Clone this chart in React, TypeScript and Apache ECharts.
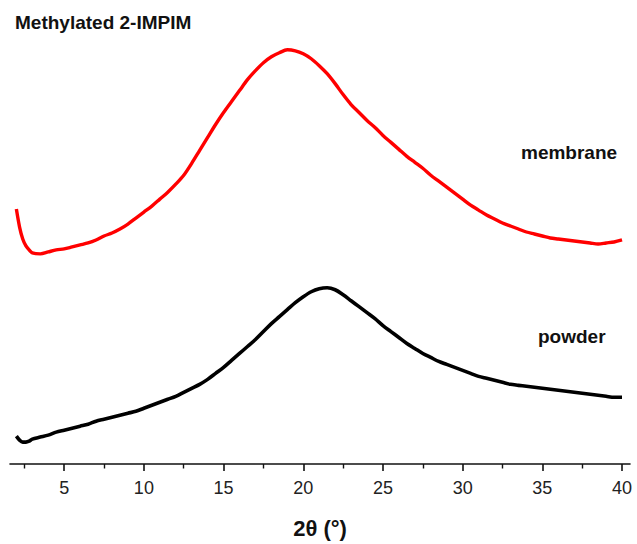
import React, { useEffect, useRef } from "react";
import * as echarts from "echarts";

// 2θ positions (degrees)
const twoTheta = [
  2.0, 2.2, 2.4, 2.6, 2.8, 3.0, 3.5, 4.0, 4.5, 5.0, 5.5, 6.0, 6.5, 7.0, 7.5, 8.0, 8.5, 9.0, 9.5,
  10.0, 10.5, 11.0, 11.5, 12.0, 12.5, 13.0, 13.5, 14.0, 14.5, 15.0, 15.5, 16.0, 16.5, 17.0, 17.5,
  18.0, 18.5, 19.0, 19.5, 20.0, 20.5, 21.0, 21.5, 22.0, 22.5, 23.0, 23.5, 24.0, 24.5, 25.0, 25.5,
  26.0, 26.5, 27.0, 27.5, 28.0, 28.5, 29.0, 29.5, 30.0, 30.5, 31.0, 31.5, 32.0, 32.5, 33.0, 33.5,
  34.0, 34.5, 35.0, 35.5, 36.0, 36.5, 37.0, 37.5, 38.0, 38.5, 39.0, 39.5, 40.0,
];

// intensity (a.u., offset) – membrane
const membrane = [
  256, 238, 226, 219, 215, 212, 211, 213, 215, 216, 218, 220, 222, 225, 229, 232, 236, 241, 247,
  253, 259, 266, 273, 281, 290, 302, 315, 328, 341, 353, 364, 375, 386, 395, 403,
  409, 413, 416, 415, 412, 407, 400, 392, 382, 371, 361, 353, 345, 338, 330, 323,
  316, 309, 303, 297, 290, 284, 278, 272, 266, 260, 255, 250, 246, 242, 239, 236,
  233, 231, 229, 227, 226, 225, 224, 223, 222, 221, 222, 223, 225,
];

// intensity (a.u.) – powder
const powder = [
  28, 24, 22, 22, 23, 25, 27, 29, 32, 34, 36, 38, 40, 43, 45, 47, 49, 51, 53,
  56, 59, 62, 65, 68, 72, 76, 80, 85, 91, 97, 104, 111, 118, 125, 133,
  141, 148, 155, 162, 168, 173, 176, 177, 175, 170, 164, 158, 152, 146, 139, 133,
  127, 121, 116, 111, 107, 103, 100, 97, 94, 91, 88, 86, 84, 82, 80, 79,
  78, 77, 76, 75, 74, 73, 72, 71, 70, 69, 68, 67, 67,
];

const majorTicks = [5, 10, 15, 20, 25, 30, 35, 40];
const minorTicks = [2.5, 7.5, 12.5, 17.5, 22.5, 27.5, 32.5, 37.5];

const FONT = "'Liberation Sans', Arial, Helvetica, sans-serif";

export default function App() {
  const ref = useRef<HTMLDivElement>(null);

  useEffect(() => {
    if (!ref.current) return;
    const chart = echarts.init(ref.current, null, { renderer: "svg" });
    const xMin = 1.6;
    const xMax = 40.5;
    chart.setOption({
      animation: false,
      backgroundColor: "#ffffff",
      grid: { left: 10, right: 7, top: 0, bottom: 78 },
      xAxis: [
        {
          type: "value",
          min: xMin,
          max: xMax,
          position: "bottom",
          name: "2θ (°)",
          nameLocation: "middle",
          nameGap: 53,
          nameTextStyle: { fontFamily: FONT, fontSize: 22, fontWeight: "bold", color: "#111" },
          axisLine: { show: true, onZero: false, lineStyle: { color: "#111", width: 1.6 } },
          axisTick: {
            show: true,
            inside: false,
            length: 7,
            customValues: majorTicks,
            lineStyle: { color: "#111", width: 1.6 },
          },
          axisLabel: {
            show: true,
            customValues: majorTicks,
            margin: 15,
            fontFamily: FONT,
            fontSize: 18,
            color: "#222",
          },
          splitLine: { show: false },
        },
        {
          type: "value",
          min: xMin,
          max: xMax,
          position: "bottom",
          axisLine: { show: false, onZero: false },
          axisTick: {
            show: true,
            length: 4.5,
            customValues: minorTicks,
            lineStyle: { color: "#111", width: 1.4 },
          },
          axisLabel: { show: false },
          splitLine: { show: false },
        },
      ],
      yAxis: {
        type: "value",
        min: 0,
        max: 466,
        show: false,
        splitLine: { show: false },
      },
      series: [
        {
          type: "line",
          name: "membrane",
          data: twoTheta.map((x, i) => [x, membrane[i]]),
          showSymbol: false,
          smooth: 0.3,
          lineStyle: { color: "#ff0000", width: 3.4 },
        },
        {
          type: "line",
          name: "powder",
          data: twoTheta.map((x, i) => [x, powder[i]]),
          showSymbol: false,
          smooth: 0.3,
          lineStyle: { color: "#000000", width: 3.6 },
        },
      ],
      graphic: [
        {
          type: "text",
          left: 15,
          top: 13,
          style: { text: "Methylated 2-IMPIM", font: `bold 19px ${FONT}`, fill: "#111" },
        },
        {
          type: "text",
          left: 521,
          top: 143,
          style: { text: "membrane", font: `bold 19px ${FONT}`, fill: "#111" },
        },
        {
          type: "text",
          left: 538,
          top: 327,
          style: { text: "powder", font: `bold 19px ${FONT}`, fill: "#111" },
        },
      ],
    });
    return () => chart.dispose();
  }, []);

  return (
    <div
      ref={ref}
      style={{ position: "absolute", left: 0, top: 0, width: 637, height: 544 }}
    />
  );
}
